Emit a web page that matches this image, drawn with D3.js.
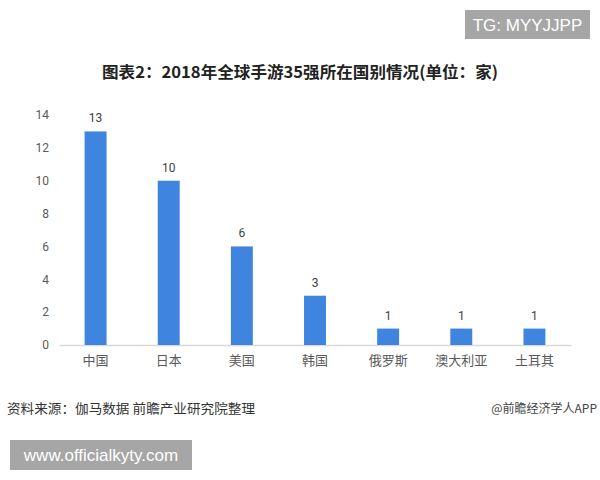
<!DOCTYPE html>
<html><head><meta charset="utf-8">
<script src="https://cdn.jsdelivr.net/npm/d3@7"></script>
<style>body{margin:0;background:#fff;}svg{display:block;}</style>
</head><body>
<script>
const categories = ["中国","日本","美国","韩国","俄罗斯","澳大利亚","土耳其"];
const values = [13,10,6,3,1,1,1];
const yTicks = [0,2,4,6,8,10,12,14];
const title = "图表2：2018年全球手游35强所在国别情况(单位：家)";
const source = "资料来源：伽马数据 前瞻产业研究院整理";
const credit = "@前瞻经济学人APP";
const tag = "TG: MYYJJPP";
const url = "www.officialkyty.com";

const W=600,H=480;
const svg=d3.select("body").append("svg").attr("width",W).attr("height",H);
svg.append("rect").attr("width",W).attr("height",H).attr("fill","#fff");
const cjk='"Noto Sans CJK SC","Microsoft YaHei",sans-serif';

const x=d3.scaleBand().domain(categories).range([59,571]).paddingInner(0.7).paddingOuter(0.35);
const y=d3.scaleLinear().domain([0,14]).range([345,115]);

// y axis labels
const ya=svg.append("g").attr("transform","translate(49,0)").call(d3.axisLeft(y).tickValues(yTicks).tickSize(0).tickPadding(0));
ya.select(".domain").remove();
ya.selectAll("text").attr("font-family","Roboto,'Noto Sans',sans-serif").attr("font-size",12).attr("fill","#595959");

// x axis
const xa=svg.append("g").attr("transform","translate(0,345)").call(d3.axisBottom(x).tickSize(0).tickPadding(11));
xa.select(".domain").attr("stroke","#d9d9d9").attr("stroke-width",1.5);
xa.selectAll("text").attr("font-family",cjk).attr("font-size",13).attr("fill","#595959");

// bars
svg.append("g").selectAll("rect").data(values).join("rect")
  .attr("x",(d,i)=>x(categories[i])).attr("width",x.bandwidth())
  .attr("y",d=>y(d)).attr("height",d=>y(0)-y(d)).attr("fill","#3f85e0");
svg.append("g").selectAll("text").data(values).join("text")
  .attr("x",(d,i)=>x(categories[i])+x.bandwidth()/2).attr("y",d=>y(d)-9)
  .attr("text-anchor","middle").attr("font-family","Roboto,'Noto Sans',sans-serif")
  .attr("font-size",12).attr("fill","#404040").text(d=>d);

// title
svg.append("text").attr("x",300).attr("y",78).attr("text-anchor","middle")
  .attr("font-family",cjk).attr("font-weight","bold").attr("font-size",16).attr("fill","#222")
  .attr("textLength",396).attr("lengthAdjust","spacingAndGlyphs").text(title);

// tag box
svg.append("rect").attr("x",465).attr("y",10).attr("width",125).attr("height",29).attr("fill","#a6a6a6");
svg.append("text").attr("x",527.5).attr("y",31).attr("text-anchor","middle")
  .attr("font-family","'Liberation Sans',Arial,sans-serif").attr("font-size",17).attr("fill","#fff").text(tag);

// source
svg.append("text").attr("x",7).attr("y",413).attr("font-family",cjk).attr("font-size",13).attr("fill","#333")
  .attr("textLength",248).attr("lengthAdjust","spacingAndGlyphs").text(source);
svg.append("text").attr("x",597).attr("y",413).attr("text-anchor","end").attr("font-family",cjk).attr("font-size",12).attr("fill","#444").text(credit);

// url box
svg.append("rect").attr("x",10).attr("y",440).attr("width",182).attr("height",30).attr("fill","#a6a6a6");
svg.append("text").attr("x",101).attr("y",461).attr("text-anchor","middle")
  .attr("font-family","'Liberation Sans',Arial,sans-serif").attr("font-size",17).attr("fill","#fff").text(url);
</script>
</body></html>
